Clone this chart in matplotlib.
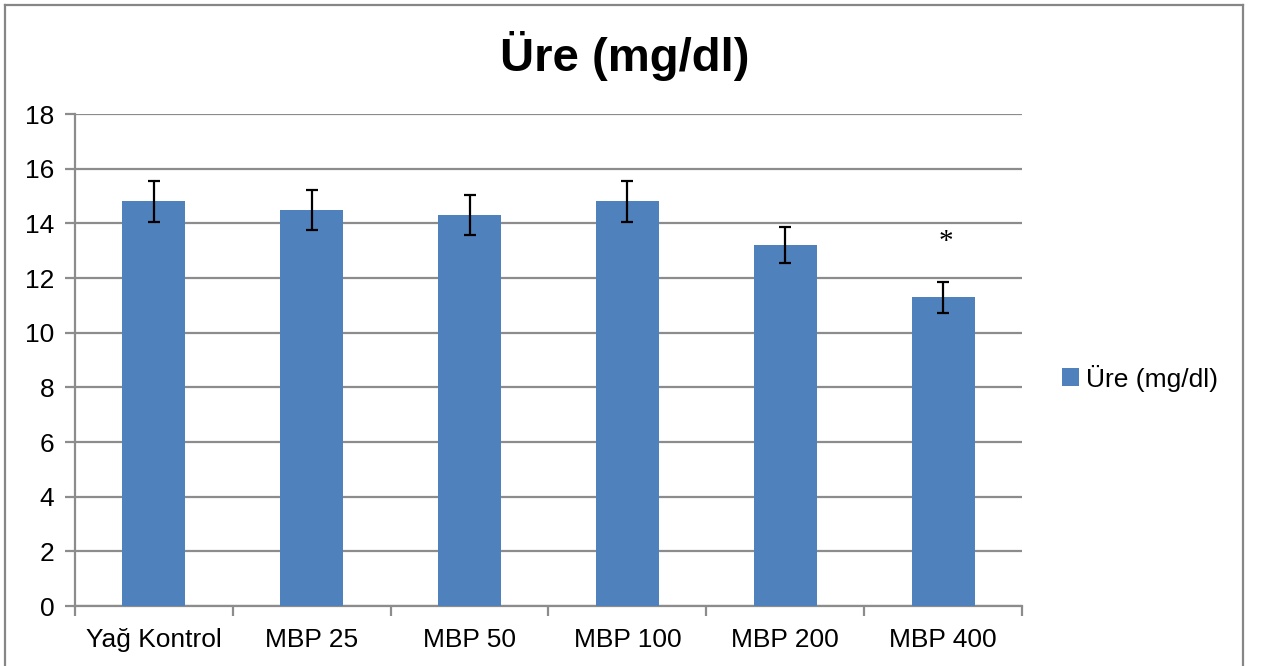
import matplotlib
matplotlib.use("Agg")
import matplotlib.pyplot as plt
from matplotlib.lines import Line2D
from matplotlib.patches import Patch

# Data
categories = ["Yağ Kontrol", "MBP 25", "MBP 50", "MBP 100", "MBP 200", "MBP 400"]
values = [14.8, 14.5, 14.3, 14.8, 13.2, 11.3]
errors = [0.75, 0.73, 0.72, 0.75, 0.66, 0.57]
series_name = "Üre (mg/dl)"
title = "Üre (mg/dl)"
y_ticks = [0, 2, 4, 6, 8, 10, 12, 14, 16, 18]
marked = {5: "*"}

W, H, DPI = 1264, 666, 100
fig = plt.figure(figsize=(W / DPI, H / DPI), dpi=DPI)
fig.patch.set_facecolor("white")

plt.rcParams["font.family"] = ["Liberation Sans", "DejaVu Sans"]

ax = fig.add_axes([75 / W, 1 - 606 / H, (1022 - 75) / W, (606 - 114) / H])

bar_color = "#4F81BD"
grid_color = "#8C8C8C"
x = list(range(len(categories)))
ax.bar(x, values, width=0.4, color=bar_color, zorder=3)
ax.errorbar(x, values, yerr=errors, fmt="none", ecolor="black",
            elinewidth=1.6, capsize=4.5, capthick=1.6, zorder=4)

for i, mark in marked.items():
    ax.text(i + 0.02, values[i] + errors[i] + 1.45, mark, ha="center", va="center",
            fontsize=21, family="Liberation Serif", zorder=5)

ax.set_xlim(-0.5, len(categories) - 0.5)
ax.set_ylim(0, 18)
ax.set_yticks(y_ticks)
ax.set_yticklabels([str(t) for t in y_ticks], fontsize=19)
ax.yaxis.grid(True, color=grid_color, linewidth=1.6, zorder=0)
ax.set_axisbelow(True)

ax.set_xticks(x)
ax.set_xticklabels(categories, fontsize=19)
ax.tick_params(axis="x", length=0, pad=16)
ax.tick_params(axis="y", length=7, width=1.6, color=grid_color, pad=8)
# category boundary ticks
ax.set_xticks([i - 0.5 for i in range(len(categories) + 1)], minor=True)
ax.tick_params(axis="x", which="minor", length=7, width=1.6, color=grid_color)

for side in ["top", "right"]:
    ax.spines[side].set_visible(False)
for side in ["left", "bottom"]:
    ax.spines[side].set_color(grid_color)
    ax.spines[side].set_linewidth(1.6)

fig.text(625 / W, 1 - 56 / H, title, ha="center", va="center",
         fontsize=34, fontweight="bold")

handles = [Patch(facecolor=bar_color, edgecolor="none", label=series_name)]
fig.legend(handles=handles, loc="center left",
           bbox_to_anchor=(1062 / W, 1 - 378 / H), frameon=False,
           fontsize=19, handlelength=0.65, handleheight=0.65,
           handletextpad=0.25, borderpad=0, borderaxespad=0)

# chart frame
frame_kw = dict(color="#868686", linewidth=1.6, transform=fig.transFigure)
fig.add_artist(Line2D([5 / W, 5 / W], [0, 1 - 5 / H], **frame_kw))
fig.add_artist(Line2D([5 / W, 1243 / W], [1 - 5 / H, 1 - 5 / H], **frame_kw))
fig.add_artist(Line2D([1243 / W, 1243 / W], [0, 1 - 5 / H], **frame_kw))

fig.savefig("out.png", dpi=DPI, facecolor="white")
